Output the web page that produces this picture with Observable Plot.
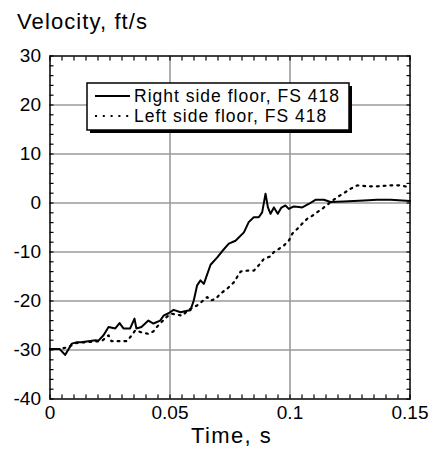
<!DOCTYPE html>
<html>
<head>
<meta charset="utf-8">
<script src="https://cdn.jsdelivr.net/npm/d3@7"></script>
<script src="https://cdn.jsdelivr.net/npm/@observablehq/plot@0.6"></script>
<style>
  html, body { margin: 0; padding: 0; background: #fff; }
  #wrap { position: relative; width: 433px; height: 455px; font-family: "Liberation Sans", Arial, sans-serif; }
  #overlay { position: absolute; left: 0; top: 0; pointer-events: none; }
</style>
</head>
<body>
<div id="wrap">
  <div id="chart"></div>
  <svg id="overlay" width="433" height="455"></svg>
</div>
<script>
// ---- data ----
const seriesNames = ["Right side floor, FS 418", "Left side floor, FS 418"];
const titleText = "Velocity, ft/s";
const xLabelText = "Time, s";

const xMajorTicks = [0, 0.05, 0.1, 0.15];
const yMajorTicks = [-40, -30, -20, -10, 0, 10, 20, 30];
const xMinorTicks = d3.range(0, 0.1501, 0.005);
const yMinorTicks = d3.range(-40, 30.01, 2);

// Right side floor (solid): [time s, velocity ft/s]
const rightSide = [
  [0, -29.8], [0.004, -29.8], [0.0063, -31.0], [0.0091, -28.7], [0.0112, -28.4], [0.013, -28.4],
  [0.016, -28.2], [0.019, -28.0], [0.0202, -28.1], [0.0223, -27.0], [0.0244, -25.3], [0.0272, -25.6],
  [0.029, -24.5], [0.0306, -25.6], [0.0334, -25.6], [0.0352, -23.6], [0.036, -25.6], [0.0381, -25.3],
  [0.041, -24.0], [0.0431, -24.6], [0.0459, -24.0], [0.0473, -23.0], [0.0494, -22.5], [0.0515, -21.8],
  [0.0544, -22.3], [0.0572, -22.0], [0.0585, -21.9], [0.0599, -19.9], [0.0613, -16.8], [0.0627, -15.8],
  [0.0641, -16.5], [0.0669, -12.6], [0.0697, -11.1], [0.0718, -9.8], [0.0745, -8.3], [0.0773, -7.7],
  [0.0808, -6.0], [0.0828, -3.9], [0.0849, -2.9], [0.087, -2.9], [0.0884, -1.9], [0.0898, 1.9],
  [0.0908, -0.9], [0.0919, -2.2], [0.0933, -0.9], [0.0949, -2.2], [0.0963, -1.0], [0.0981, -0.5],
  [0.0995, -1.2], [0.1016, -0.7], [0.1037, -0.8], [0.1051, -0.9], [0.1078, -0.2], [0.1106, 0.65],
  [0.1141, 0.65], [0.1169, 0.2], [0.1224, 0.3], [0.1308, 0.5], [0.1363, 0.65], [0.1419, 0.65], [0.15, 0.4]
];

// Left side floor (dotted): [time s, velocity ft/s]
const leftSide = [
  [0, -29.8], [0.004, -29.8], [0.0077, -29.4], [0.0105, -28.6], [0.015, -28.4], [0.0215, -28.2],
  [0.0244, -27.0], [0.0256, -28.2], [0.0319, -28.2], [0.0334, -27.4], [0.0355, -26.0], [0.0381, -26.4],
  [0.041, -26.7], [0.0431, -26.2], [0.0445, -25.3], [0.0465, -24.3], [0.0487, -23.2], [0.0509, -22.6],
  [0.0551, -23.0], [0.0577, -21.8], [0.0613, -20.9], [0.0641, -19.8], [0.0655, -19.2], [0.0669, -19.9],
  [0.069, -19.6], [0.071, -18.5], [0.0738, -17.5], [0.0766, -16.2], [0.0794, -14.0], [0.0822, -13.8],
  [0.0849, -13.8], [0.0863, -13.1], [0.0877, -12.3], [0.0891, -11.4], [0.0919, -10.9], [0.0933, -10.0],
  [0.0953, -9.4], [0.0974, -8.7], [0.0995, -7.7], [0.1009, -6.3], [0.103, -5.3], [0.1051, -4.2],
  [0.1072, -3.2], [0.1093, -2.6], [0.1113, -1.9], [0.1134, -1.2], [0.1155, -0.4], [0.1169, 0.2],
  [0.1197, 1.2], [0.1224, 2.0], [0.1252, 2.9], [0.128, 3.6], [0.1322, 3.4], [0.1363, 3.4],
  [0.1419, 3.6], [0.146, 3.6], [0.15, 3.2]
];

// ---- chart ----
const fontFamily = "'Liberation Sans', Arial, Helvetica, sans-serif";
const gridColor = "#9a9a9a";
const mL = 49.5, mR = 23.5, mT = 55.5, mB = 56.5, W = 433, H = 455;

const chart = Plot.plot({
  width: W,
  height: H,
  marginLeft: mL,
  marginRight: mR,
  marginTop: mT,
  marginBottom: mB,
  style: { fontFamily, fontSize: "19px", background: "white", color: "black", overflow: "visible" },
  x: { domain: [0, 0.15] },
  y: { domain: [-40, 30] },
  marks: [
    Plot.gridX(xMajorTicks.slice(1, -1), { stroke: gridColor, strokeOpacity: 1, strokeWidth: 1.6 }),
    Plot.gridY(yMajorTicks.slice(1, -1), { stroke: gridColor, strokeOpacity: 1, strokeWidth: 1.6 }),
    // inward minor ticks on all four sides
    Plot.axisX({ anchor: "bottom", ticks: xMinorTicks, tickSize: -4, tickFormat: () => "", label: null, strokeWidth: 1.2 }),
    Plot.axisX({ anchor: "top", ticks: xMinorTicks, tickSize: -4, tickFormat: () => "", label: null, strokeWidth: 1.2 }),
    Plot.axisY({ anchor: "left", ticks: yMinorTicks, tickSize: -4, tickFormat: () => "", label: null, strokeWidth: 1.2 }),
    Plot.axisY({ anchor: "right", ticks: yMinorTicks, tickSize: -4, tickFormat: () => "", label: null, strokeWidth: 1.2 }),
    // tick labels
    Plot.axisX({ anchor: "bottom", ticks: xMajorTicks, tickSize: 0, tickPadding: 6, tickFormat: d => String(d), label: null, fontSize: 19 }),
    Plot.axisY({ anchor: "left", ticks: yMajorTicks, tickSize: 0, tickPadding: 9, tickFormat: d => String(d), label: null, fontSize: 19 }),
    // data
    Plot.line(leftSide, { x: d => d[0], y: d => d[1], stroke: "black", strokeWidth: 2.2, strokeDasharray: "1.8,5" }),
    Plot.line(rightSide, { x: d => d[0], y: d => d[1], stroke: "black", strokeWidth: 2 }),
    Plot.frame({ stroke: "black", strokeWidth: 1.5 })
  ]
});
document.getElementById("chart").appendChild(chart);

// ---- title, axis label and legend overlay ----
const ov = d3.select("#overlay").style("font-family", fontFamily);
ov.append("text").attr("x", 17).attr("y", 29).attr("font-size", 22).attr("letter-spacing", 1.1).text(titleText);
ov.append("text").attr("x", (mL + W - mR) / 2 + 2).attr("y", 443).attr("text-anchor", "middle")
  .attr("font-size", 22).attr("letter-spacing", 1.4).text(xLabelText);

const lg = ov.append("g");
const bx = 87, by = 83, bw = 262, bh = 47;
lg.append("rect").attr("x", bx + 3).attr("y", by + 3).attr("width", bw).attr("height", bh).attr("fill", "black");
lg.append("rect").attr("x", bx).attr("y", by).attr("width", bw).attr("height", bh)
  .attr("fill", "white").attr("stroke", "black").attr("stroke-width", 1.5);
const dashes = [null, "2,5.8"];
seriesNames.forEach((name, i) => {
  const cy = 96 + i * 20;
  lg.append("line").attr("x1", 95).attr("x2", 130).attr("y1", cy).attr("y2", cy)
    .attr("stroke", "black").attr("stroke-width", 2).attr("stroke-dasharray", dashes[i]);
  lg.append("text").attr("x", 134).attr("y", cy + 6).attr("font-size", 17.5).attr("letter-spacing", 1.0).text(name);
});
</script>
</body>
</html>
